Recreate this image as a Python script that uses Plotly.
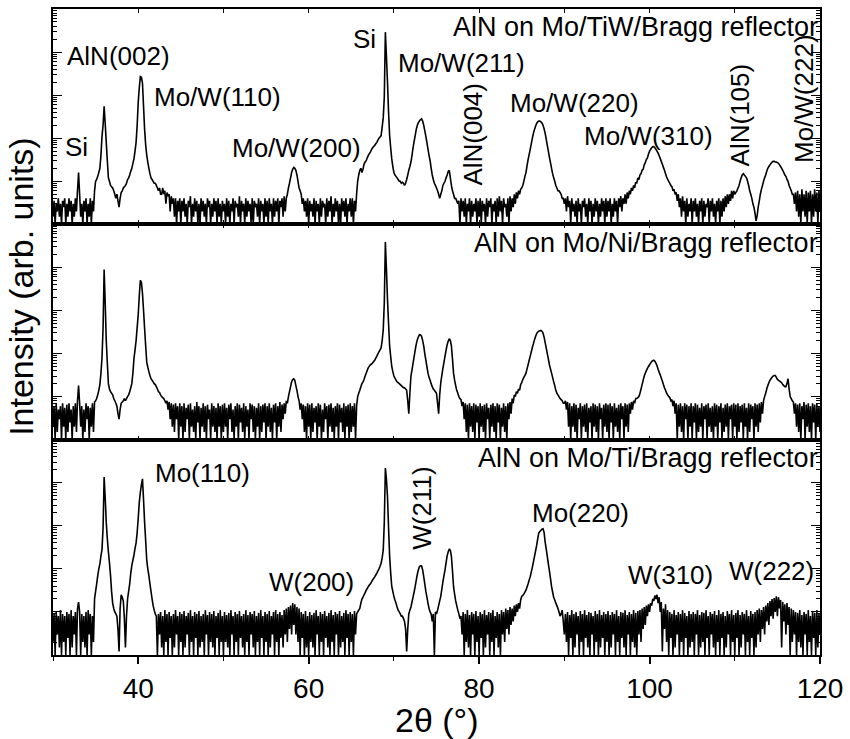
import plotly.graph_objects as go
from plotly.subplots import make_subplots

# ---------------- data (counts) -------------
# main samples every 0.25 deg from 30 to 120 deg, plus the samples lying half-way between them
TWO_THETA_START = 30.0
TWO_THETA_STEP = 0.125

tiw_main = (
    [1.5, 1, 2, 1.5, 1, 2.5, 1, 1.5, 2, 1, 1.5, 2, 16, 1.5, 1, 2, 1, 1.5, 1, 2]
    + [10, 13, 20, 110, 550, 80, 12, 8, 7, 5, 5, 2.5, 5.5, 7, 8, 11, 14, 20, 33, 80]
    + [680, 2700, 1900, 160, 40, 20, 12, 10, 9, 7, 7, 5, 5, 3, 4.5, 2, 3, 1.5, 1, 2]
    + [1, 2, 1.5, 1, 2.5, 1, 1.5, 2, 1, 1, 2, 1.5, 1, 2.5, 1, 1.5, 2, 1, 1.5, 1]
    + [2, 1, 1.5, 1, 2, 1, 2.5, 1.5, 1, 2, 1, 1.5, 2, 1, 1, 2.5, 1.5, 1, 2, 1]
    + [1.5, 1, 2, 1, 1.5, 2, 1, 2.5, 1.5, 2, 5, 9, 16, 21, 18, 10, 6, 3, 2, 1.5]
    + [1, 2, 1.5, 1, 2, 1, 1.5, 2.5, 1, 1.5, 2, 1, 1.5, 2, 1, 1, 2, 1.5, 1, 2]
    + [1.5, 1, 2, 10, 18, 16, 25, 30, 40, 48, 60, 68, 80, 100, 115, 300, 29000, 2000, 115, 33]
    + [16, 13, 11, 10, 9.5, 8, 11, 18, 28, 60, 115, 200, 250, 280, 200, 110, 56, 30, 14, 9]
    + [7, 5, 5, 8, 10, 14, 18, 8, 5, 4, 3, 1, 2, 1.5, 1, 2, 1, 1.5, 2, 1]
    + [1.5, 1, 2, 1, 1.5, 2.5, 1, 2, 1, 1.5, 2, 1, 2.5, 1.5, 1, 2, 2.5, 3, 4, 5]
    + [7, 10, 16, 32, 56, 100, 160, 220, 250, 240, 200, 130, 68, 36, 20, 12, 8, 6, 5.5, 4]
    + [3, 2, 2.5, 1, 2, 1.5, 1, 2, 1, 2.5, 1.5, 1, 2, 1, 1.5, 2, 1, 1.5, 2, 1]
    + [1.5, 2, 1, 1.5, 2, 1, 2.5, 2, 3, 3, 4, 5, 6, 7, 9, 11, 15, 19, 27, 35]
    + [50, 60, 64, 55, 45, 34, 25, 18, 12.5, 10, 8, 6, 5, 3.5, 2.5, 1.5, 2, 1, 1.5, 2]
    + [1, 2, 1.5, 1, 2, 1, 1.5, 2.5, 1, 2, 1.5, 1, 2, 1, 1.5, 2, 2.5, 3, 3.5, 4]
    + [5, 6, 8, 12, 15, 13, 10, 6, 4, 2.5, 1.2, 2.5, 5, 8, 12, 17, 22, 26, 29, 28]
    + [27, 24, 20, 16, 13, 10, 7, 5, 3, 2, 1.5, 1, 2, 1.5, 1, 2, 1, 1.5, 2, 1, 2]
)
tiw_mid = (
    [3.5, 3, 4, 3, 3.5, 4, 3, 4, 3.5, 3, 4, 6, 5, 3, 3.5, 4, 3, 4, 3.5, 6]
    + [11, 16, 40, 200, 220, 30, 10, 7.5, 6, 4, 3.5, 4, 6, 7.5, 9, 12, 17, 26, 50, 200]
    + [1500, 2600, 550, 70, 28, 15, 11, 9, 8, 6, 5, 7, 6, 5.5, 5, 4.5, 4, 4, 3.5, 4]
    + [3.5, 4, 3, 3.5, 4.5, 3, 4, 3.5, 3, 4, 3.5, 3, 4, 3.5, 3, 4, 3.5, 4, 3, 3.5]
    + [3, 4, 3.5, 3, 4, 3.5, 3, 4.5, 3.5, 3, 4, 3.5, 3, 4, 3.5, 3, 4, 3.5, 3, 4]
    + [3.5, 4, 3, 4, 3.5, 4, 3.5, 4, 4.5, 4, 7, 12, 19, 20, 14, 7, 5, 4, 3.5, 4]
    + [3.5, 3, 4, 3.5, 3, 4, 3.5, 3, 4, 3.5, 4.5, 3, 4, 3.5, 3, 4, 3.5, 4, 3, 4]
    + [4, 3.5, 5, 14, 20, 19, 28, 35, 44, 54, 64, 74, 90, 107, 180, 900, 8000, 400, 60, 22]
    + [14, 12, 10, 9, 9, 9, 14, 22, 40, 85, 160, 230, 270, 250, 150, 80, 40, 20, 11, 8]
    + [6, 4, 6, 9, 12, 17, 12, 6, 4, 3.5, 3.5, 4, 3.5, 4, 3, 4, 3.5, 3, 4, 3.5]
    + [4, 3.5, 3, 4, 3.5, 4, 3, 3.5, 4, 4.5, 3.5, 4, 3, 4, 4.5, 4, 5, 5.5, 6, 6.5]
    + [8, 13, 23, 42, 75, 130, 190, 240, 250, 225, 165, 95, 50, 27, 15, 10, 7, 6, 5, 4]
    + [4, 4.5, 3.5, 4, 3, 3.5, 4, 3, 3.5, 4, 3, 4, 3.5, 3, 4, 3.5, 3, 4, 3.5, 4]
    + [3.5, 4, 3, 4, 3.5, 4, 4.5, 4, 5, 5.5, 6, 7, 8, 9.5, 12, 14, 18, 24, 32, 43]
    + [55, 63, 60, 50, 39, 29, 21, 15, 11, 9, 7.5, 6.5, 5.5, 5, 4, 4.5, 3.5, 4, 3, 4]
    + [3.5, 4, 3, 3.5, 4, 3.5, 3, 4, 3.5, 4, 3, 3.5, 4, 3.5, 4, 4.5, 5, 5, 6, 6]
    + [5.5, 7, 10, 14, 14, 12, 8, 5, 3, 1.8, 1.6, 3.5, 6.5, 10, 14, 20, 24, 28, 29, 28]
    + [26, 22, 18, 14, 11, 8, 6, 5, 5.5, 6, 5, 6.5, 5, 6, 5.5, 6, 5, 6.5, 5.5, 6]
)

ni_main = (
    [2, 1, 1.5, 3, 1, 2, 1, 1.5, 2.5, 1, 2, 1.5, 18, 2, 1, 1.5, 3, 1, 2, 1.5]
    + [8, 11, 19, 80, 8900, 200, 20, 13, 11, 8, 6, 3, 7, 8, 8, 10, 13, 20, 76, 200]
    + [800, 5000, 2500, 380, 63, 38, 26, 22, 19, 15, 12.5, 10, 9, 7, 5, 3, 2, 1.5, 3, 1]
    + [2, 1, 1.5, 3, 1, 2, 1.5, 1, 2.5, 1, 2, 1.5, 1, 3, 1, 2, 1.5, 1, 2, 1]
    + [1.5, 2, 1, 3, 1.5, 1, 2, 1, 2.5, 1.5, 1, 2, 1, 3, 1.5, 1, 2, 1, 1.5, 2.5]
    + [1, 2, 1.5, 1, 2.5, 1, 2, 1.5, 3, 4, 7, 13, 22, 26, 18, 10, 5, 3, 1.5, 1]
    + [2, 1, 1.5, 2.5, 1, 2, 1, 1.5, 3, 1, 2, 1.5, 1, 2, 1, 2.5, 1.5, 1, 2, 1]
    + [1.5, 2, 1, 10, 14, 20, 25, 35, 47, 55, 60, 70, 87, 110, 135, 360, 39000, 1800, 150, 50]
    + [30, 24, 21, 19, 17, 16, 14, 4, 30, 60, 120, 210, 275, 250, 150, 70, 35, 24, 17, 14]
    + [12, 4, 21, 45, 87, 160, 220, 150, 35, 18, 12, 9, 6, 3, 1.5, 1, 2, 1.5, 1, 2.5]
    + [1, 2, 1.5, 1, 3, 1, 2, 1.5, 1, 2.5, 1, 2, 1.5, 1, 3, 4, 7, 10, 12, 14]
    + [21, 28, 35, 55, 87, 140, 210, 290, 330, 345, 300, 180, 100, 55, 35, 22, 14, 11, 9, 8]
    + [7, 5, 2, 1, 2, 1.5, 1, 3, 1, 2, 1.5, 1, 2.5, 1, 2, 1.5, 1, 3, 1, 2]
    + [1.5, 1, 2.5, 1, 2, 1.5, 1, 3, 1, 2, 1.5, 4, 5, 7, 9, 10, 15, 24, 35, 45]
    + [55, 65, 70, 60, 43, 32, 23, 16, 12, 10, 8, 6, 4, 1, 2, 1.5, 1, 3, 1, 2]
    + [1, 2.5, 1, 1.5, 2, 1, 3, 1, 2, 1.5, 1, 2, 1, 2.5, 1, 1.5, 2, 1, 3, 1]
    + [2, 1, 1.5, 2.5, 1, 2, 1, 1.5, 3, 1, 2, 1.5, 2.5, 4, 10, 15, 21, 26, 30, 31]
    + [25, 23, 21, 18, 17, 26, 10, 8, 4, 2, 1.5, 1, 3, 1, 2, 1.5, 1, 2.5, 1, 2, 1.5]
)
ni_mid = (
    [6, 7, 5, 6, 7, 5.5, 6.5, 7, 5, 6, 7, 8, 7, 6, 5, 7, 6, 5.5, 7, 7.5]
    + [9, 14, 35, 400, 1500, 60, 15, 12, 9, 7, 4, 5, 7.5, 9, 9, 11, 16, 35, 120, 400]
    + [2200, 4500, 1000, 150, 48, 31, 24, 20, 17, 13, 11, 9.5, 8, 8, 7.5, 7, 6.5, 7, 6, 7]
    + [6, 7, 5.5, 6.5, 7, 5, 6, 7.5, 6, 5.5, 7, 6, 6.5, 5, 7, 6, 5.5, 7, 6, 6.5]
    + [7, 5.5, 6.5, 7, 5, 6, 7, 6.5, 5.5, 7, 6, 5, 7, 6.5, 6, 5.5, 7, 6, 6.5, 7]
    + [6, 7, 5.5, 6.5, 7, 6, 7.5, 6.5, 7, 8, 10, 17, 25, 24, 14, 8, 7, 6.5, 6, 7]
    + [6.5, 7, 5.5, 6, 7, 6.5, 5, 7, 6, 6.5, 7, 5.5, 6, 7, 6.5, 5.5, 7, 6, 6.5, 7]
    + [6, 7, 6, 12, 17, 22, 30, 41, 51, 57, 65, 78, 98, 122, 200, 1500, 9000, 500, 85, 38]
    + [27, 22, 20, 18, 16, 15, 8, 12, 42, 85, 165, 245, 270, 200, 100, 50, 28, 20, 15, 13]
    + [7, 11, 31, 62, 120, 195, 200, 75, 24, 14, 10, 8.5, 7.5, 7, 6.5, 7, 6, 7, 6.5, 6]
    + [7, 6, 6.5, 7, 5.5, 6.5, 7, 6, 7, 6.5, 5.5, 7, 6, 7, 7.5, 9, 11, 13, 15, 19]
    + [25, 31, 44, 70, 110, 170, 250, 315, 340, 330, 240, 135, 75, 44, 28, 18, 12, 10, 8.5, 7]
    + [8, 7.5, 7, 6, 7, 6.5, 5.5, 7, 6, 6.5, 7, 5.5, 6, 7, 6.5, 6, 7, 5.5, 6.5, 7]
    + [6.5, 7, 6, 7, 5.5, 6.5, 7, 6, 7, 6.5, 7, 7.5, 8, 9, 9.5, 12, 19, 30, 40, 50]
    + [60, 68, 66, 52, 37, 27, 19, 14, 11, 9.5, 8.5, 8, 7, 6.5, 7, 6, 7, 6.5, 6, 7]
    + [6, 7, 6.5, 5.5, 7, 6, 6.5, 7, 5.5, 6, 7, 6.5, 6, 7, 5.5, 6.5, 7, 6, 6.5, 7]
    + [6.5, 7, 6, 6.5, 7, 5.5, 7, 6.5, 6, 7, 6.5, 7, 7.5, 8, 12, 18, 24, 28, 31, 28]
    + [24, 22, 19, 17, 20, 15, 9, 7.5, 7, 6.5, 7, 6, 7.5, 6.5, 7, 6, 7, 6.5, 7, 6]
)

ti_main = (
    [2, 1, 3, 1.5, 1, 2, 1, 2.5, 1, 1.5, 3, 1, 17, 1, 2, 1.5, 1, 3, 1, 2]
    + [30, 70, 130, 280, 13500, 1200, 250, 70, 16, 10, 8, 1.2, 25, 18, 1.5, 20, 45, 120, 210, 400]
    + [1500, 6000, 12300, 1200, 160, 70, 30, 14, 9, 1, 3, 1.5, 1, 2, 1, 2.5, 1, 1.5, 3, 1]
    + [2, 1, 1.5, 3, 1, 2, 1, 2.5, 1, 1.5, 2, 1, 3, 1, 2, 1.5, 1, 2.5, 1, 2]
    + [1, 2, 1.5, 1, 3, 1, 2, 1, 2.5, 1.5, 1, 2, 1, 3, 1.5, 1, 2, 1, 2.5, 1]
    + [2, 1, 1.5, 3, 1, 2, 1, 2.5, 1.5, 3, 2, 4, 3, 5, 3, 2, 1, 2.5, 1, 1.5]
    + [1, 2, 1.5, 1, 3, 1, 2, 1, 2.5, 1.5, 1, 2, 1, 3, 1, 1.5, 2, 1, 2.5, 1]
    + [2, 1, 3, 10, 12, 20, 25, 32, 39, 45, 55, 65, 80, 100, 135, 275, 22000, 4800, 195, 39]
    + [23, 16, 11, 9, 8, 6, 1.2, 9, 13, 22, 39, 75, 112, 117, 66, 30, 16, 10, 6, 1]
    + [9, 14, 23, 50, 95, 200, 290, 195, 39, 18, 11, 7, 3, 1, 2, 1.5, 1, 3, 1, 2]
    + [1, 2.5, 1, 1.5, 3, 1, 2, 1, 2.5, 1.5, 1, 3, 2, 4, 3, 5, 6, 8, 10, 12]
    + [23, 26, 32, 45, 66, 110, 195, 350, 680, 780, 850, 420, 195, 90, 39, 22, 16, 12, 8, 11]
    + [3, 2, 1, 2.5, 1, 1.5, 3, 1, 2, 1, 2.5, 1.5, 1, 3, 1, 2, 1, 1.5, 2.5, 1]
    + [2, 1, 1.5, 3, 1, 2, 1, 2.5, 1.5, 1, 3, 1, 2, 1.5, 1, 3, 2, 4, 5, 8]
    + [10, 14, 18, 20, 16, 10, 1.2, 4, 2, 1, 2.5, 1, 1.5, 3, 1, 2, 1, 2.5, 1, 1.5]
    + [2, 1, 3, 1, 1.5, 2, 1, 2.5, 1, 3, 1.5, 1, 2, 1, 2.5, 1, 1.5, 3, 1, 2]
    + [1, 2.5, 1, 1.5, 3, 1, 2, 1, 2.5, 1, 1.5, 3, 2, 4, 3, 6, 5, 8, 7, 10]
    + [8, 12, 1.5, 6, 3, 5, 1, 2, 3, 1, 2, 1.5, 1, 3, 1, 2, 1, 2.5, 1, 1.5, 3]
)
ti_mid = (
    [9, 10, 8, 11, 9, 8, 10, 9, 11, 8, 10, 12, 10, 9, 8, 10, 11, 9, 8, 20]
    + [45, 100, 200, 900, 4500, 500, 140, 30, 12, 9, 4, 12, 22, 7, 8, 30, 80, 160, 300, 700]
    + [3500, 9000, 4000, 450, 100, 45, 20, 11, 8, 9, 10, 8, 11, 9, 10, 8, 9, 11, 8, 10]
    + [9, 10.5, 8, 9.5, 11, 8, 10, 9, 10.5, 8, 9, 11, 8.5, 10, 9, 10.5, 8, 9.5, 11, 8]
    + [10, 8.5, 9.5, 11, 8, 10, 9, 10.5, 8, 9, 11, 8.5, 10, 9, 10.5, 8, 9.5, 11, 8, 10]
    + [9, 10.5, 8, 10, 11, 9, 10, 8.5, 11, 12, 13, 14, 16, 15, 13, 12, 10, 9, 10.5, 8]
    + [10, 8.5, 9.5, 11, 8, 10, 9, 10.5, 8, 9.5, 11, 8.5, 10, 9, 10.5, 8, 9.5, 11, 9, 10]
    + [9, 10.5, 9, 11, 16, 22, 28, 35, 42, 50, 60, 72, 90, 115, 180, 1200, 12000, 900, 80, 30]
    + [19, 13, 10, 8, 7, 4, 4, 11, 17, 29, 55, 95, 118, 95, 45, 22, 12, 9, 9, 10]
    + [11, 18, 34, 70, 140, 250, 270, 90, 26, 14, 9, 8, 10, 9, 11, 8.5, 10, 9, 10.5, 8]
    + [10, 9, 11, 8.5, 10, 9.5, 11, 8, 10, 9, 11, 10, 12, 11, 13, 12, 14, 15, 16, 19]
    + [24, 29, 38, 55, 85, 145, 260, 500, 740, 830, 700, 290, 130, 60, 29, 19, 14, 10, 9, 6]
    + [9, 10, 8.5, 11, 9, 10, 8, 10.5, 9, 11, 8.5, 10, 9.5, 8, 10.5, 9, 11, 8.5, 10, 9]
    + [10.5, 8.5, 10, 9, 11, 8, 10, 9.5, 11, 8.5, 10, 9, 11, 9.5, 10.5, 11, 12, 13, 14, 15]
    + [16, 20, 24, 25, 22, 17, 12, 15, 11, 10, 9, 11, 8.5, 10, 9, 11, 9.5, 8, 10.5, 9]
    + [10, 9, 11, 8.5, 10, 9.5, 11, 8, 10, 9, 10.5, 8.5, 11, 9, 10, 8, 10.5, 9, 11, 8.5]
    + [9.5, 11, 8.5, 10, 9, 11, 8, 10.5, 9, 10, 11, 12, 11, 13, 14, 16, 18, 20, 21, 23]
    + [22, 19, 17, 15, 16, 13, 12, 11, 10, 9.5, 11, 8.5, 10, 9, 11, 8, 10, 9.5, 11, 9]
)

sample_names = [
    "AlN on Mo/TiW/Bragg reflector",
    "AlN on Mo/Ni/Bragg reflector",
    "AlN on Mo/Ti/Bragg reflector",
]

x_tick_values = [40, 60, 80, 100, 120]

# peak labels: (text, 2theta position, vertical position in panel (0..1), rotation)
tiw_labels = [
    ("Si", 32.8, 0.36, 0),
    ("AlN(002)", 37.7, 0.78, 0),
    ("Mo/W(110)", 49.3, 0.59, 0),
    ("Mo/W(200)", 58.6, 0.355, 0),
    ("Si", 66.6, 0.86, 0),
    ("Mo/W(211)", 77.9, 0.75, 0),
    ("AlN(004)", 79.25, 0.42, -90),
    ("Mo/W(220)", 91.2, 0.565, 0),
    ("Mo/W(310)", 99.9, 0.41, 0),
    ("AlN(105)", 110.6, 0.51, -90),
    ("Mo/W(222)", 118.2, 0.585, -90),
]
ni_labels = []
ti_labels = [
    ("Mo(110)", 47.5, 0.845, 0),
    ("W(200)", 60.3, 0.34, 0),
    ("W(211)", 73.2, 0.68, -90),
    ("Mo(220)", 91.9, 0.66, 0),
    ("W(310)", 102.4, 0.37, 0),
    ("W(222)", 114.3, 0.39, 0),
]


def merge(main, mid):
    """Put the half-way samples between the main samples (ordering only)."""
    assert len(main) == len(mid) + 1, (len(main), len(mid))
    out = []
    for a, b in zip(main[:-1], mid):
        out.append(a)
        out.append(b)
    out.append(main[-1])
    return out


# ---------------- figure ----------------
FONT = "Liberation Sans, Arial, Helvetica, sans-serif"
panels = [merge(tiw_main, tiw_mid), merge(ni_main, ni_mid), merge(ti_main, ti_mid)]
panel_labels = [tiw_labels, ni_labels, ti_labels]

fig = make_subplots(rows=3, cols=1, shared_xaxes=True, vertical_spacing=0)

for i, counts in enumerate(panels):
    two_theta = [TWO_THETA_START + TWO_THETA_STEP * k for k in range(len(counts))]
    fig.add_trace(
        go.Scatter(x=two_theta, y=counts, mode="lines",
                   line=dict(color="black", width=1.6, simplify=False),
                   showlegend=False, hoverinfo="skip"),
        row=i + 1, col=1,
    )

for i in range(3):
    r = i + 1
    fig.update_yaxes(
        row=r, col=1, type="log", range=[0, 5], dtick=1,
        showticklabels=False, ticks="inside", ticklen=9, tickwidth=1.3,
        tickcolor="black", showline=True, linewidth=2, linecolor="black",
        mirror="ticks", showgrid=False, zeroline=False,
        minor=dict(ticks="inside", ticklen=4, tickwidth=1, tickcolor="black",
                   showgrid=False),
    )
    if r < 3:
        fig.update_xaxes(
            row=r, col=1, range=[30, 120], dtick=10, tick0=0,
            ticks="inside", ticklen=4, tickwidth=1.2, tickcolor="black",
            showticklabels=False, showline=True, linewidth=2, linecolor="black",
            mirror="ticks", showgrid=False, zeroline=False,
        )
    else:
        fig.update_xaxes(
            row=r, col=1, range=[30, 120], tickvals=x_tick_values,
            ticks="outside", ticklen=7, tickwidth=1.5, tickcolor="black",
            showline=True, linewidth=2, linecolor="black", mirror=True,
            showgrid=False, zeroline=False,
            tickfont=dict(family=FONT, size=28, color="black"),
            minor=dict(ticks="outside", ticklen=4, tickwidth=1.2, dtick=10,
                       tick0=0, tickcolor="black", showgrid=False),
        )

annotations = []
for i in range(3):
    yref = "y domain" if i == 0 else f"y{i + 1} domain"
    xref = "x" if i == 0 else f"x{i + 1}"
    annotations.append(dict(
        text=sample_names[i], x=1.0, y=0.915, xref=xref + " domain",
        yref=yref, xanchor="right", yanchor="middle", showarrow=False,
        font=dict(family=FONT, size=27, color="black"),
    ))
    for text, xv, yv, ang in panel_labels[i]:
        annotations.append(dict(
            text=text, x=xv, y=yv, xref=xref, yref=yref, xanchor="center",
            yanchor="middle", textangle=ang, showarrow=False,
            font=dict(family=FONT, size=26, color="black"),
        ))

annotations.append(dict(
    text="Intensity (arb. units)", x=-0.0416, y=0.57, xref="paper", yref="paper",
    xanchor="center", yanchor="middle", textangle=-90, showarrow=False,
    font=dict(family=FONT, size=34, color="black"),
))
annotations.append(dict(
    text="2θ (°)", x=0.5, y=-0.101, xref="paper", yref="paper",
    xanchor="center", yanchor="middle", showarrow=False,
    font=dict(family=FONT, size=34, color="black"),
))

fig.update_layout(
    width=850, height=739,
    margin=dict(l=53, r=27, t=7, b=84),
    paper_bgcolor="white", plot_bgcolor="white",
    annotations=annotations,
    font=dict(family=FONT, color="black"),
)

fig.write_html(
    "out.html",
    config={"displayModeBar": False},
    post_script="document.body.style.margin='0px';document.body.style.overflow='hidden';",
)
